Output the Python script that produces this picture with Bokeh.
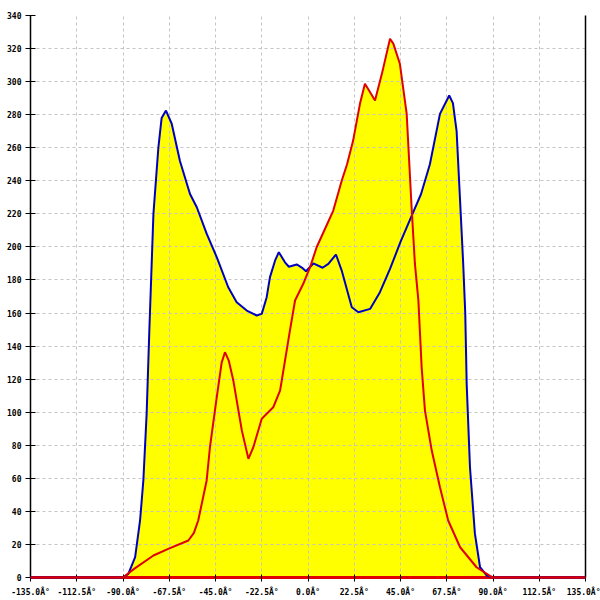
from bokeh.plotting import figure
from bokeh.models import FixedTicker, LinearAxis, Range1d
from bokeh.embed import file_html
from bokeh.resources import INLINE

# ---- data ----
blue_x = [-135, -90, -87.4, -84.1, -81.7, -80.1, -78.5, -77.2, -75.2, -72.8, -71.2, -69.1,
          -66.3, -62.3, -57.4, -54.1, -49.3, -44.4, -38.8, -34.7, -29.8, -25, -22.5, -20.1,
          -18.5, -16, -14.2, -11.2, -9.3, -5.5, -3, -1, 2.6, 7.1, 9.9, 13.6, 16.4, 21.3,
          24.5, 30.2, 35, 39.9, 45, 51.2, 55, 59.3, 64.2, 68.7, 70.5, 72.3, 73.9, 75.5,
          76.5, 77.2, 78.8, 81.2, 83.7, 87, 90, 135]
blue_y = [0, 0, 2.2, 12.3, 34.5, 58.7, 99, 149, 220, 260, 278, 282.5,
          274.5, 252, 232, 224, 208, 193.8, 175.6, 166.5, 161.5, 158.5, 159.5, 169.6,
          181.7, 191.8, 196.8, 190.7, 188, 189.4, 187.5, 185.3, 190, 187.4, 189.7, 195.4, 185.7, 163.5,
          160.5, 162.5, 172.6, 186.7, 203, 221, 232, 250, 280.5, 291.6, 287, 270, 230, 190,
          160, 117, 66.7, 26.5, 6.2, 1.2, 0, 0]

red_x = [-135, -90, -84.6, -75.2, -68, -58.2, -55.5, -53.4, -49.3, -47.7, -44.4, -42, -40.4,
         -38.5, -36.3, -32.2, -29, -26.6, -22.5, -16.9, -13.6, -12.8, -8.8, -6.3, -2.3, 1,
         4.2, 8.3, 12.3, 16.4, 19, 21.9, 25.3, 27.7, 30, 32.6, 36, 39.9, 41.5, 44.7, 48,
         50.4, 52, 53.7, 55.3, 56.9, 60.2, 64.2, 68.2, 74, 82, 88.5, 90, 135]
red_y = [0, 0, 5.2, 13.3, 17.3, 22.4, 27, 34.5, 58.7, 78.8, 109, 130, 136.3,
         131, 119, 89, 71.8, 78.8, 96, 103, 113, 119, 149.4, 167.6, 177.7, 187.7,
         199.8, 211, 222, 240, 250, 264, 286.7, 298.7, 294, 288.6, 305, 325.9, 323, 310.8, 280.7,
         224, 190, 167.6, 127, 101, 76.8, 54.6, 34.5, 18.3, 6.2, 1, 0, 0]

x_ticks = [-135, -112.5, -90, -67.5, -45, -22.5, 0, 22.5, 45, 67.5, 90, 112.5, 135]
x_tick_labels = ["-135.0Â°", "-112.5Â°", "-90.0Â°", "-67.5Â°", "-45.0Â°", "-22.5Â°", "0.0Â°",
                 "22.5Â°", "45.0Â°", "67.5Â°", "90.0Â°", "112.5Â°", "135.0Â°"]
y_ticks = list(range(0, 341, 20))

p = figure(width=600, height=600, x_range=Range1d(-135, 135), y_range=Range1d(0, 340),
           output_backend="svg", toolbar_location=None,
           min_border_left=30, min_border_right=15, min_border_top=15, min_border_bottom=23)
p.outline_line_color = None
p.background_fill_color = "white"

# fills (union of areas under both curves)
p.varea(x=blue_x, y1=0, y2=blue_y, fill_color="#ffff00", level="underlay")
p.varea(x=red_x, y1=0, y2=red_y, fill_color="#ffff00", level="underlay")

p.line(blue_x, blue_y, line_color="#0000c0", line_width=2, level="annotation")
p.line(red_x, red_y, line_color="#e00000", line_width=2, level="annotation")

# grid
for g in (p.xgrid, p.ygrid):
    g.grid_line_color = "#c4c4c4"
    g.grid_line_dash = "3 3"
    g.grid_line_width = 1
    g.level = "glyph"
p.xgrid.ticker = FixedTicker(ticks=x_ticks)
p.ygrid.ticker = FixedTicker(ticks=y_ticks)

font = "DejaVu Sans Mono"
xa = p.xaxis[0]
xa.ticker = FixedTicker(ticks=x_ticks)
xa.major_label_overrides = {t: l for t, l in zip(x_ticks, x_tick_labels)}
xa.axis_line_color = "#e00000"
xa.axis_line_width = 3
xa.major_tick_in = 3
xa.major_tick_out = 4
xa.minor_tick_line_color = None
xa.major_tick_line_color = "black"
xa.major_label_standoff = 6
xa.major_label_text_font = font
xa.major_label_text_font_size = "8px"
xa.major_label_text_font_style = "bold"
xa.major_label_text_color = "black"

ya = p.yaxis[0]
ya.ticker = FixedTicker(ticks=y_ticks)
ya.axis_line_color = "black"
ya.axis_line_width = 1.5
ya.major_tick_in = 5
ya.major_tick_out = 5
ya.minor_tick_line_color = None
ya.major_tick_line_color = "black"
ya.major_label_standoff = 4
ya.major_label_text_font = font
ya.major_label_text_font_size = "8px"
ya.major_label_text_font_style = "bold"
ya.major_label_text_color = "black"

ra = LinearAxis(ticker=FixedTicker(ticks=[]), major_tick_in=0, major_tick_out=0,
                minor_tick_line_color=None, axis_line_color="black", axis_line_width=1.5,
                major_label_standoff=0)
p.add_layout(ra, "right")

open("out.html", "w").write(file_html(p, INLINE))
